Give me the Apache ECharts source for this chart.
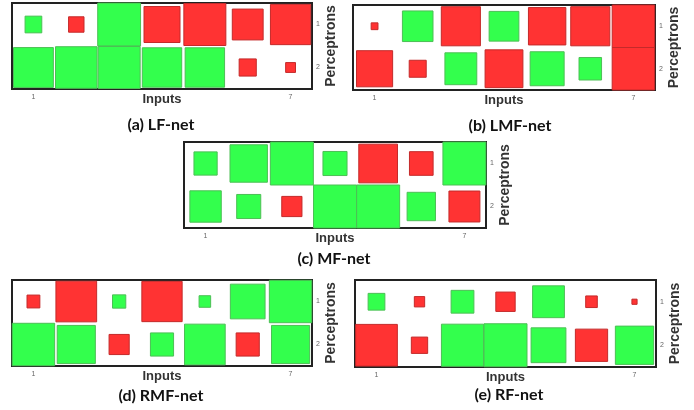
<!DOCTYPE html>
<html>
<head>
<meta charset="utf-8">
<script src="https://cdn.jsdelivr.net/npm/echarts@6/dist/echarts.min.js"></script>
<style>
  html, body { margin: 0; padding: 0; background: #fff; }
  #chart { width: 694px; height: 410px; }
</style>
</head>
<body>
<div id="chart"></div>
<script>
// inputs along x, perceptrons along y
const inputs = ["1", "2", "3", "4", "5", "6", "7"];
const perceptrons = ["1", "2"];
const captions = ["(a) LF-net", "(b) LMF-net", "(c) MF-net", "(d) RMF-net", "(e) RF-net"];

// signed weights (relative, max magnitude = 1), one row per perceptron
const lfNet = [
  [0.39, -0.36, 1.0, -0.84, -0.98, -0.72, -0.94],
  [0.93, 0.97, 0.98, 0.92, 0.92, -0.40, -0.23]
];
const lmfNet = [
  [-0.16, 0.72, -0.92, 0.70, -0.88, -0.92, -1.0],
  [-0.85, -0.40, 0.75, -0.89, 0.80, 0.53, -1.0]
];
const mfNet = [
  [0.54, 0.87, 1.0, 0.56, -0.90, -0.55, 1.0],
  [0.73, 0.56, -0.47, 1.0, 1.0, 0.66, -0.72]
];
const rmfNet = [
  [-0.30, -0.95, 0.31, -0.94, 0.27, 0.81, 0.99],
  [0.99, 0.89, -0.47, 0.54, 0.95, -0.54, 0.89]
];
const rfNet = [
  [0.39, -0.24, 0.53, -0.45, 0.74, -0.27, -0.12],
  [-0.97, -0.38, 0.98, 1.0, 0.81, -0.75, 0.89]
];

const nets = [lfNet, lmfNet, mfNet, rmfNet, rfNet];

// panel boxes: left, top, width, height
const boxes = [
  [12, 3, 300, 86],
  [353, 5, 302, 85],
  [184, 142, 302, 86],
  [12, 280, 300, 86],
  [355, 280, 301, 87]
];
// caption centres
const captionPos = [[156, 123], [505, 124], [329, 257], [156, 394], [504, 393]];

const chart = echarts.init(document.getElementById("chart"));

const grid = [], xAxis = [], yAxis = [], series = [], title = [];

nets.forEach((net, i) => {
  const b = boxes[i];
  grid.push({
    left: b[0], top: b[1], width: b[2], height: b[3],
    show: true, borderColor: "#222", borderWidth: 2, backgroundColor: "#fff", z: 0
  });
  xAxis.push({
    type: "category", gridIndex: i, data: inputs,
    name: "Inputs", nameLocation: "middle", nameGap: 4, nameMoveOverlap: false,
    nameTextStyle: { fontFamily: "Liberation Sans", fontWeight: "bold", fontSize: 13, color: "#333" },
    axisLine: { show: false }, axisTick: { show: false },
    axisLabel: {
      fontSize: 7, color: "#666", margin: 5,
      formatter: (v, idx) => (idx === 0 || idx === inputs.length - 1 ? v : "")
    },
    splitLine: { show: false }
  });
  yAxis.push({
    type: "category", gridIndex: i, data: perceptrons, inverse: true, position: "right",
    name: "Perceptrons", nameLocation: "middle", nameGap: 12, nameRotate: 90, nameMoveOverlap: false,
    nameTextStyle: { fontFamily: "Liberation Sans", fontWeight: "bold", fontSize: 14, color: "#333" },
    axisLine: { show: false }, axisTick: { show: false },
    axisLabel: { fontSize: 7, color: "#666", margin: 4 },
    splitLine: { show: false }
  });
  const data = [];
  net.forEach((row, r) => row.forEach((w, c) => data.push([c, r, w])));
  series.push({
    type: "custom", xAxisIndex: i, yAxisIndex: i, data: data,
    renderItem: (params, api) => {
      const w = api.value(2);
      const p = api.coord([api.value(0), api.value(1)]);
      const s = api.size([1, 1]);
      const side = Math.min(s[0], s[1]) * Math.abs(w);
      return {
        type: "rect",
        shape: { x: p[0] - side / 2, y: p[1] - side / 2, width: side, height: side },
        style: {
          fill: w >= 0 ? "#33ff4d" : "#ff3333",
          stroke: w >= 0 ? "#4cbf55" : "#c42a2a",
          lineWidth: 1
        }
      };
    }
  });
  title.push({
    text: captions[i],
    left: captionPos[i][0], top: captionPos[i][1] - 11, textAlign: "center",
    textStyle: { fontFamily: "Lato", fontWeight: "bold", fontSize: 16, color: "#111" }
  });
});

chart.setOption({
  animation: false,
  title: title,
  grid: grid,
  xAxis: xAxis,
  yAxis: yAxis,
  series: series
});
</script>
</body>
</html>
